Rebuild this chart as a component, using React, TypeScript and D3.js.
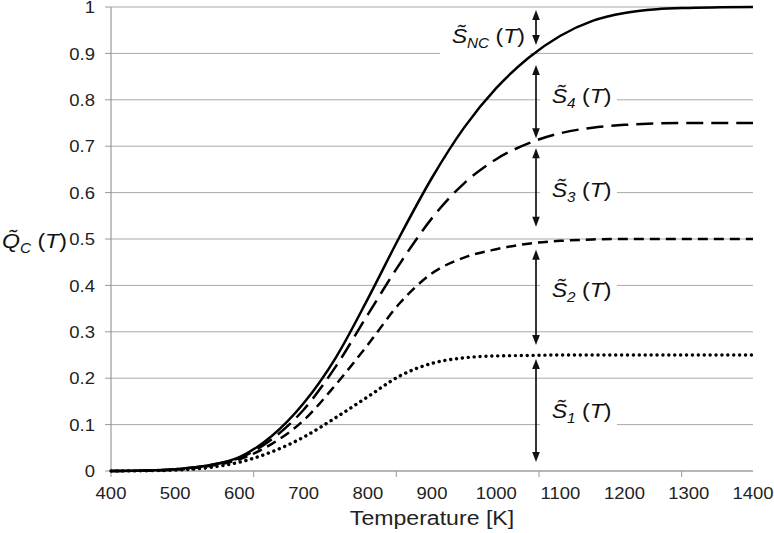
import React from "react";
import * as d3 from "d3";

// ---- data ----
const temps = [400, 450, 500, 550, 600, 650, 700, 750, 800, 850, 900, 950, 1000, 1050, 1100, 1150, 1200, 1250, 1300, 1350, 1400];
const qTotal = [0, 0.001, 0.004, 0.012, 0.030, 0.075, 0.146, 0.244, 0.371, 0.506, 0.632, 0.740, 0.825, 0.890, 0.938, 0.970, 0.987, 0.995, 0.998, 0.9995, 1.0];
const qS1to3 = [0, 0.001, 0.004, 0.012, 0.028, 0.068, 0.132, 0.225, 0.337, 0.447, 0.545, 0.620, 0.672, 0.706, 0.728, 0.740, 0.746, 0.749, 0.750, 0.750, 0.750];
const qS1to2 = [0, 0.001, 0.003, 0.010, 0.025, 0.058, 0.109, 0.186, 0.272, 0.362, 0.426, 0.460, 0.478, 0.490, 0.496, 0.499, 0.5, 0.5, 0.5, 0.5, 0.5];
const qS1 = [0, 0.0005, 0.002, 0.007, 0.019, 0.041, 0.073, 0.115, 0.160, 0.205, 0.232, 0.244, 0.248, 0.249, 0.25, 0.25, 0.25, 0.25, 0.25, 0.25, 0.25];

const xTickLabels = [400, 500, 600, 700, 800, 900, 1000, 1100, 1200, 1300, 1400];
const xTickMarks = [400, 622.2, 844.4, 1066.7, 1288.9];
const yTickLabels = [0, 0.1, 0.2, 0.3, 0.4, 0.5, 0.6, 0.7, 0.8, 0.9, 1];

const bandSubs = ["NC", "4", "3", "2", "1"];
const bandTop = [1.0, 0.903, 0.713, 0.494, 0.25];
const bandBottom = [0.903, 0.713, 0.494, 0.25, 0];
const arrowT = 1062;

// ---- layout ----
const W = 774, H = 533;
const x = d3.scaleLinear().domain([400, 1400]).range([111, 753]);
const y = d3.scaleLinear().domain([0, 1]).range([471, 7]);
const FONT = "'Liberation Sans', Arial, Helvetica, sans-serif";
const SX = 1.1;

const gapTop = [3, 13, 8, 8, 4];
const gapBot = [7, 2, 15, 10, 9];
const labelX = [451.7, 551.7, 551.7, 551.7, 551.7];
const labelBase = [43.3, 103.3, 196.7, 296.7, 418.3];

const series = [
  { v: qTotal, dash: null, w: 2.5, cap: "butt" },
  { v: qS1to3, dash: "17,8", w: 2.5, cap: "butt" },
  { v: qS1to2, dash: "10,6", w: 2.5, cap: "butt" },
  { v: qS1, dash: "0.1,5.8", w: 3.4, cap: "round" },
];

function Label({ tx, ty, sub, main, size }: { tx: number; ty: number; sub: string; main: string; size: number }) {
  return (
    <text transform={`translate(${tx},${ty}) scale(${SX},1)`} fontFamily={FONT} fontSize={size} fill="#111">
      <tspan fontStyle="italic">{main + "\u0303"}</tspan>
      <tspan fontStyle="italic" fontSize={size * 0.66} dy={5}>{sub}</tspan>
      <tspan dy={-5}>{" ("}</tspan>
      <tspan fontStyle="italic">T</tspan>
      <tspan>)</tspan>
    </text>
  );
}

export default function App() {
  const line = d3
    .line<number>()
    .x((_, i) => x(temps[i]))
    .y((d) => y(d))
    .curve(d3.curveMonotoneX);

  const ax = x(arrowT);

  return (
    <svg width={W} height={H} style={{ position: "absolute", left: 0, top: 0, background: "#fff" }}>
      <rect x={0} y={0} width={W} height={H} fill="#fff" />
      {/* gridlines */}
      {yTickLabels.map((t) => (
        <line key={"g" + t} x1={x(400)} x2={x(1400)} y1={y(t)} y2={y(t)} stroke="#a8a8a8" strokeWidth={1} />
      ))}
      {/* white label boxes */}
      {bandSubs.map((s, i) => (
        <rect
          key={"b" + s}
          x={i === 0 ? 440 : 540}
          y={labelBase[i] - 30}
          width={i === 0 ? 90 : 77}
          height={i === 0 ? 47 : 40}
          fill="#fff"
        />
      ))}
      {/* axes */}
      <line x1={x(400)} x2={x(400)} y1={y(1)} y2={y(0)} stroke="#999" strokeWidth={1.2} />
      <line x1={x(400)} x2={x(1400)} y1={y(0)} y2={y(0)} stroke="#999" strokeWidth={1.2} />
      {yTickLabels.map((t) => (
        <line key={"yt" + t} x1={x(400) - 6} x2={x(400)} y1={y(t)} y2={y(t)} stroke="#999" strokeWidth={1} />
      ))}
      {xTickMarks.map((t) => (
        <line key={"xt" + t} x1={x(t)} x2={x(t)} y1={y(0)} y2={y(0) + 6} stroke="#999" strokeWidth={1} />
      ))}
      {yTickLabels.map((t) => (
        <text
          key={"yl" + t}
          transform={`translate(95,${y(t) + 6.2}) scale(${SX},1)`}
          textAnchor="end"
          fontFamily={FONT}
          fontSize={16.8}
          fill="#222"
        >
          {String(t)}
        </text>
      ))}
      {xTickLabels.map((t) => (
        <text
          key={"xl" + t}
          transform={`translate(${x(t)},498.5) scale(${SX},1)`}
          textAnchor="middle"
          fontFamily={FONT}
          fontSize={16.8}
          fill="#222"
        >
          {String(t)}
        </text>
      ))}
      <text
        transform={`translate(${(x(400) + x(1400)) / 2},525) scale(${SX},1)`}
        textAnchor="middle"
        fontFamily={FONT}
        fontSize={21}
        fill="#222"
      >
        Temperature [K]
      </text>
      {/* y-axis title */}
      <Label tx={2} ty={248} main="Q" sub="C" size={21} />
      {/* series */}
      {series.map((s, i) => (
        <path
          key={"s" + i}
          d={line(s.v) || ""}
          fill="none"
          stroke="#000"
          strokeWidth={s.w}
          strokeDasharray={s.dash || undefined}
          strokeLinecap={s.cap as any}
        />
      ))}
      {/* arrows */}
      {bandSubs.map((s, i) => {
        const y1 = y(bandTop[i]) + gapTop[i];
        const y2 = y(bandBottom[i]) - gapBot[i];
        const hl = 10, hw = 3.8;
        return (
          <g key={"a" + s}>
            <line x1={ax} x2={ax} y1={y1 + hl - 1} y2={y2 - hl + 1} stroke="#111" strokeWidth={1.7} />
            <path d={`M${ax},${y1} L${ax - hw},${y1 + hl} L${ax + hw},${y1 + hl} Z`} fill="#111" />
            <path d={`M${ax},${y2} L${ax - hw},${y2 - hl} L${ax + hw},${y2 - hl} Z`} fill="#111" />
          </g>
        );
      })}
      {bandSubs.map((s, i) => (
        <Label key={"l" + s} tx={labelX[i]} ty={labelBase[i]} main="S" sub={s} size={21} />
      ))}
    </svg>
  );
}
